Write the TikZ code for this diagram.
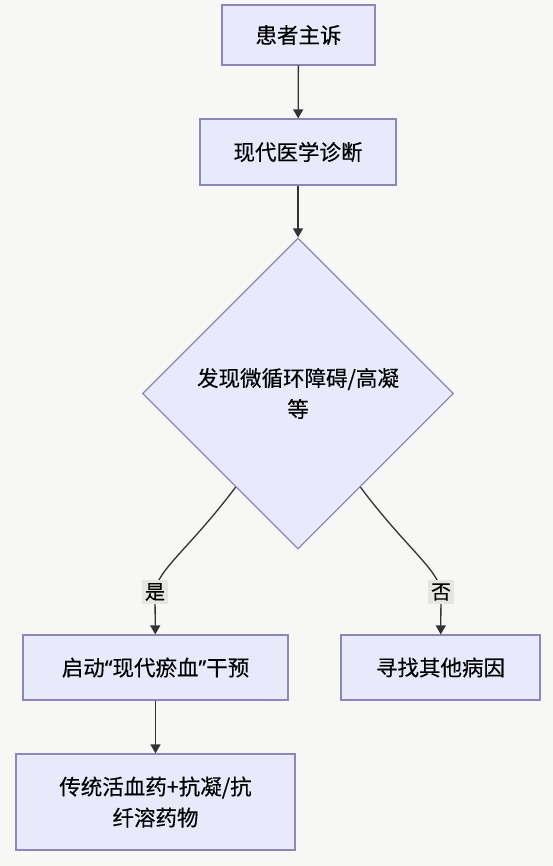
\documentclass[tikz,border=0pt]{standalone}
\usepackage{fontspec}
\setmainfont[FakeBold=0.3]{Noto Sans CJK SC}
\newfontfamily\latinq[FakeBold=0.3]{Noto Sans}
\usetikzlibrary{shapes.geometric, arrows.meta, calc}

\definecolor{pagebg}{HTML}{F7F7F5}
\definecolor{boxfill}{HTML}{E9E9FC}
\definecolor{boxline}{HTML}{8E86B8}
\definecolor{linkcol}{HTML}{333333}
\definecolor{lblfill}{HTML}{E6E6E1}

\begin{document}
\begin{tikzpicture}[x=1pt, y=-1pt,
    font=\fontsize{21.5}{31}\selectfont,
    stepbox/.style={draw=boxline, fill=boxfill, line width=1.2pt, align=center, inner sep=0pt},
    choice/.style={diamond, draw=boxline, fill=boxfill, line width=1.2pt, align=center,
        inner sep=0pt, minimum width=311pt, minimum height=311pt},
    link/.style={draw=linkcol, line width=1.3pt, -{Triangle[length=9pt, width=10pt]}},
    lbl/.style={fill=lblfill, inner sep=3pt, font=\fontsize{20}{24}\selectfont}]

    % Page background
    \fill[pagebg] (0,0) rectangle (553,866);
    \useasboundingbox (0,0) rectangle (553,866);

    % Top chain of boxes
    \node[stepbox, minimum width=153pt, minimum height=60pt] (complaint) at (298.5,35) {患者主诉};
    \node[stepbox, minimum width=196pt, minimum height=66pt] (diagnosis) at (298,152) {现代医学诊断};

    % Decision
    \node[choice] (finding) at (298,393.5) {发现微循环障碍/高凝\\等};

    % Two branches
    \node[stepbox, minimum width=265pt, minimum height=65pt] (stasis) at (155.5,667.5)
        {启动{\latinq “}现代瘀血{\latinq ”}干预};
    \node[stepbox, minimum width=199pt, minimum height=65pt] (other) at (440.5,667.5) {寻找其他病因};
    \node[stepbox, minimum width=279pt, minimum height=96pt] (drugs) at (155.5,802)
        {传统活血药+抗凝/抗\\纤溶药物};

    % Straight arrows
    \draw[link] (complaint) -- (diagnosis);
    \draw[link] (diagnosis) -- (finding);
    \draw[link] (stasis) -- (drugs);

    % Curved arrows out of the decision
    \coordinate (yesout) at ($(finding.west)!0.6!(finding.south)$);
    \coordinate (noout) at ($(finding.east)!0.6!(finding.south)$);
    \coordinate (yesat) at (155,592);
    \coordinate (noat) at (441,592);
    \draw[link] (yesout) .. controls (190,548) and (157,570) .. (yesat) -- (stasis);
    \draw[link] (noout) .. controls (406,548) and (439,570) .. (noat) -- (other);

    % Branch labels
    \node[lbl] (yes) at (yesat) {是};
    \node[lbl] (no) at (noat) {否};
\end{tikzpicture}
\end{document}
